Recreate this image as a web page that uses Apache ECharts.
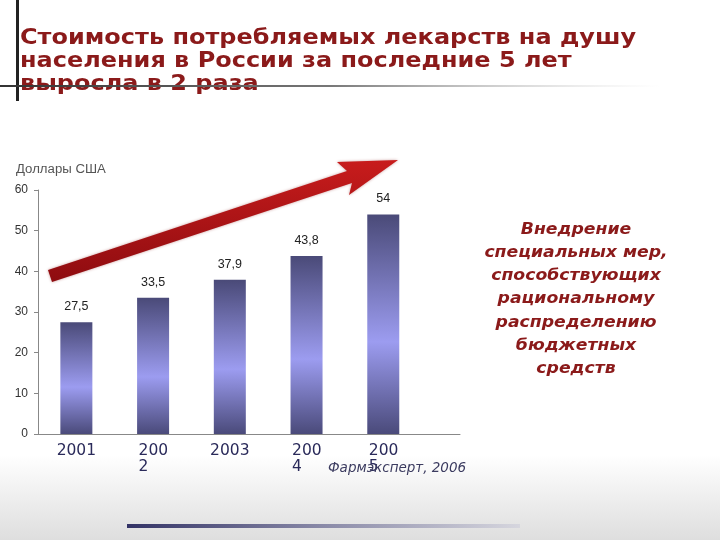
<!DOCTYPE html>
<html>
<head>
<meta charset="utf-8">
<script src="https://cdn.jsdelivr.net/npm/echarts@6/dist/echarts.min.js"></script>
<style>html,body{margin:0;padding:0;background:#fff}#c{width:720px;height:540px}</style>
</head>
<body>
<div id="c"></div>
<script>
var years = ['2001', '2002', '2003', '2004', '2005'];
var yearLabels = ['2001', '200\n2', '2003', '200\n4', '200\n5'];
var values = [27.5, 33.5, 37.9, 43.8, 54];
var yTicks = [0, 10, 20, 30, 40, 50, 60];
var titleLines = ['Стоимость потребляемых лекарств на душу', 'населения в России за последние 5 лет', 'выросла в 2 раза'];
var noteLines = ['Внедрение', 'специальных мер,', 'способствующих', 'рациональному', 'распределению', 'бюджетных', 'средств'];
var unitLabel = 'Доллары США';
var sourceLabel = 'Фармэксперт, 2006';

var chart = echarts.init(document.getElementById('c'));
var barData = values.map(function (v, i) { return [i + 0.5, v]; });
var labelPos = years.map(function (y, i) { return i + 0.5; });

chart.setOption({
  animation: false,
  backgroundColor: '#ffffff',
  grid: { left: 38, right: 260, top: 190, bottom: 106 },
  xAxis: {
    type: 'value', min: 0, max: 5.5,
    axisLine: { show: true, onZero: false, lineStyle: { color: '#888', width: 1 } },
    axisTick: { show: false },
    splitLine: { show: false },
    axisLabel: {
      customValues: labelPos,
      margin: 9,
      formatter: function (v) {
        var i = Math.round(v - 0.5);
        var t = yearLabels[i];
        if (t.indexOf('\n') >= 0) {
          return t.split('\n').map(function (s) { return '{w|' + s + '}'; }).join('\n');
        }
        return '{s|' + t + '}';
      },
      rich: {
        w: { width: 29, align: 'left', fontFamily: 'DejaVu Sans', fontSize: 15.5, color: '#2a2a5a', lineHeight: 16 },
        s: { fontFamily: 'DejaVu Sans', fontSize: 15.5, color: '#2a2a5a', lineHeight: 16 }
      }
    }
  },
  yAxis: {
    type: 'value', min: 0, max: 60, interval: 10,
    axisLine: { show: true, lineStyle: { color: '#888' } },
    axisTick: { show: true, length: 4, lineStyle: { color: '#888' } },
    splitLine: { show: false },
    axisLabel: { fontFamily: 'Liberation Sans', fontSize: 12, color: '#333', margin: 10 }
  },
  series: [{
    type: 'bar',
    data: barData,
    barWidth: 32,
    itemStyle: {
      color: new echarts.graphic.LinearGradient(0, 0, 0, 1, [
        { offset: 0, color: '#4a4a78' },
        { offset: 0.58, color: '#9c9cf0' },
        { offset: 1, color: '#4a4a7a' }
      ])
    },
    label: {
      show: true, position: 'top', distance: 9,
      fontFamily: 'Liberation Sans', fontSize: 12.5, color: '#222',
      formatter: function (p) { return String(p.value[1]).replace('.', ','); }
    }
  }],
  graphic: [
    { type: 'rect', z: -10, shape: { x: 0, y: 455, width: 720, height: 85 },
      style: { fill: new echarts.graphic.LinearGradient(0, 0, 0, 1, [{ offset: 0, color: '#ffffff' }, { offset: 1, color: '#dedede' }]) } },
    { type: 'rect', shape: { x: 127, y: 524, width: 393, height: 4 },
      style: { fill: new echarts.graphic.LinearGradient(0, 0, 1, 0, [{ offset: 0, color: '#333366' }, { offset: 0.5, color: '#8a8aa8' }, { offset: 1, color: '#d6d6de' }]) } },
    { type: 'text', x: 20, y: 27, scaleX: 1.115, z: 5,
      style: { text: titleLines.join('\n'), fontFamily: 'DejaVu Sans', fontWeight: 'bold', fontSize: 21.5, lineHeight: 23, fill: '#8b1a1a' } },
    { type: 'rect', shape: { x: 16, y: 0, width: 3, height: 101 }, style: { fill: '#222' }, z: 10 },
    { type: 'rect', shape: { x: 0, y: 85, width: 660, height: 2 }, z: 10,
      style: { fill: new echarts.graphic.LinearGradient(0, 0, 1, 0, [{ offset: 0, color: '#333' }, { offset: 0.5, color: '#777' }, { offset: 1, color: 'rgba(200,200,200,0)' }]) } },
    { type: 'polygon', z: 20,
      shape: { points: [[48, 270], [347, 171], [337, 162], [398, 160], [349, 195], [352, 183], [52, 282]] },
      style: { fill: new echarts.graphic.LinearGradient(0, 0, 0, 1, [{ offset: 0, color: '#c81c1c' }, { offset: 1, color: '#8e0c10' }]),
        shadowBlur: 3, shadowColor: 'rgba(120,0,0,0.4)' } },
    { type: 'text', x: 16, y: 170, scaleX: 1.1, style: { text: unitLabel, fontFamily: 'Liberation Sans', fontSize: 12, fill: '#555', verticalAlign: 'middle' } },
    { type: 'text', x: 576, y: 218, scaleX: 1.15, style: { text: noteLines.join('\n'), textAlign: 'center', fontFamily: 'DejaVu Sans', fontStyle: 'italic', fontWeight: 'bold', fontSize: 15, lineHeight: 23.3, fill: '#8b1a1a' } },
    { type: 'text', x: 328, y: 468, z: 30, style: { text: sourceLabel, fontFamily: 'DejaVu Sans', fontStyle: 'italic', fontSize: 13.5, fill: '#3c3c60', verticalAlign: 'middle' } }
  ]
});
</script>
</body>
</html>
